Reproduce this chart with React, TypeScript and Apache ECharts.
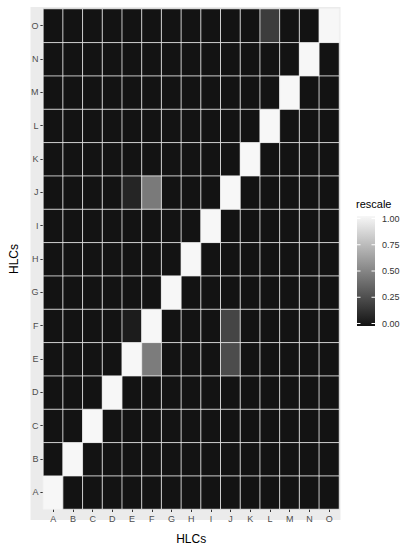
import React, { useEffect, useRef } from "react";
import * as echarts from "echarts";

const hlcs = ["A", "B", "C", "D", "E", "F", "G", "H", "I", "J", "K", "L", "M", "N", "O"];
const diagonalValue = 1;
// [x (column), y (row), rescale value] for off-diagonal non-zero cells
const offDiagonal: [string, string, number][] = [
  ["L", "O", 0.18],
  ["E", "J", 0.08],
  ["F", "J", 0.45],
  ["E", "F", 0.04],
  ["J", "F", 0.22],
  ["F", "E", 0.46],
  ["J", "E", 0.25],
];
const legendTicks = ["1.00", "0.75", "0.50", "0.25", "0.00"];

const LOW = "#131313";
const HIGH = "#f7f7f7";

export default function App() {
  const ref = useRef<HTMLDivElement>(null);
  useEffect(() => {
    if (!ref.current) return;
    const chart = echarts.init(ref.current, undefined, { renderer: "svg" });
    const data: [number, number, number][] = [];
    for (let yi = 0; yi < hlcs.length; yi++) {
      for (let xi = 0; xi < hlcs.length; xi++) {
        let v = xi === yi ? diagonalValue : 0;
        for (const [xc, yc, val] of offDiagonal) {
          if (hlcs[xi] === xc && hlcs[yi] === yc) v = val;
        }
        data.push([xi, yi, v]);
      }
    }
    const gl = 32, gt = 9, gw = 307, gh = 509;
    const barX = 357, barTop = 216, barH = 110, barW = 18;
    const tickY0 = 218.5, tickStep = 26.25;
    const graphics: any[] = [
      {
        type: "rect",
        z: -10,
        silent: true,
        shape: { x: gl - 1.5, y: gt - 2, width: gw + 3, height: gh + 4 },
        style: { fill: "#ebebeb" },
      },
      {
        type: "text",
        left: 356,
        top: 198,
        style: { text: "rescale", fontSize: 11, fill: "#000", fontFamily: "Liberation Sans" },
      },
      {
        type: "rect",
        shape: { x: barX, y: barTop, width: barW, height: barH },
        style: {
          fill: new echarts.graphic.LinearGradient(0, 0, 0, 1, [
            { offset: 0, color: HIGH },
            { offset: 1, color: LOW },
          ]),
        },
      },
    ];
    legendTicks.forEach((t, i) => {
      const y = tickY0 + i * tickStep;
      graphics.push({
        type: "text",
        x: 382,
        y,
        style: {
          text: t,
          fontSize: 9,
          fill: "#333",
          fontFamily: "Liberation Sans",
          verticalAlign: "middle",
        },
      });
      graphics.push({
        type: "line",
        shape: { x1: barX, y1: y, x2: barX + 3.5, y2: y },
        style: { stroke: "#fff", lineWidth: 1 },
      });
      graphics.push({
        type: "line",
        shape: { x1: barX + barW - 3.5, y1: y, x2: barX + barW, y2: y },
        style: { stroke: "#fff", lineWidth: 1 },
      });
    });

    chart.setOption({
      animation: false,
      backgroundColor: "#fff",
      textStyle: { fontFamily: "Liberation Sans" },
      grid: { left: gl, top: gt, width: gw, height: gh },
      xAxis: {
        type: "category",
        data: hlcs,
        name: "HLCs",
        nameLocation: "middle",
        nameGap: 24,
        nameTextStyle: { fontSize: 12, color: "#000" },
        axisLine: { show: false },
        axisTick: { show: true, length: 3, alignWithLabel: true, lineStyle: { color: "#333" } },
        axisLabel: { fontSize: 9, color: "#4d4d4d", margin: 5 },
        splitLine: { show: false },
      },
      yAxis: {
        type: "category",
        data: hlcs,
        name: "HLCs",
        nameLocation: "middle",
        nameGap: 17,
        nameTextStyle: { fontSize: 12, color: "#000" },
        axisLine: { show: false },
        axisTick: { show: true, length: 3, alignWithLabel: true, lineStyle: { color: "#333" } },
        axisLabel: { fontSize: 9, color: "#4d4d4d", margin: 5 },
        splitLine: { show: false },
      },
      visualMap: {
        show: false,
        min: 0,
        max: 1,
        dimension: 2,
        inRange: { color: [LOW, HIGH] },
      },
      graphic: graphics,
      series: [
        {
          type: "heatmap",
          data,
          itemStyle: { borderColor: "#f2f2f2", borderWidth: 0.8 },
          emphasis: { disabled: true },
        },
      ],
    });
    return () => chart.dispose();
  }, []);
  return (
    <div
      ref={ref}
      style={{ position: "fixed", left: 0, top: 0, width: 405, height: 550 }}
    />
  );
}
